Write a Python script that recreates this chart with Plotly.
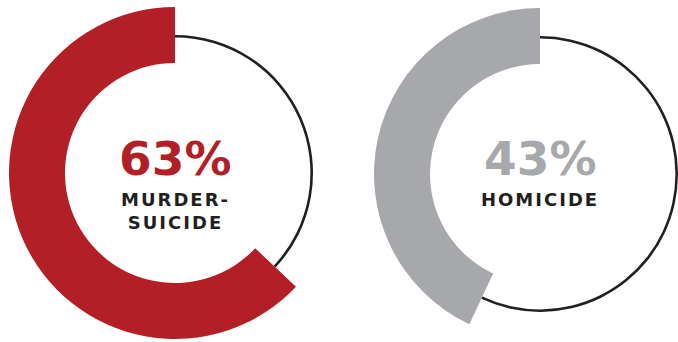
import plotly.graph_objects as go

# Data
labels = ["MURDER-<br>SUICIDE", "HOMICIDE"]
percents = [63, 43]
colors = ["#B31F27", "#A7A8AB"]

W, H = 720, 342   # page is viewed in a 678px window; extra width lets the right arc run off the edge
centers = [(175, 173), (540, 174)]
R_OUT, R_IN = 166, 110
R_LINE, LINE_W = 138, 2.6

def dom(cx, cy, r):
    clip = lambda v: min(1, max(0, v))
    return dict(x=[clip((cx - r) / W), clip((cx + r) / W)],
                y=[clip(1 - (cy + r) / H), clip(1 - (cy - r) / H)])

fig = go.Figure()
for (cx, cy), p, c in zip(centers, percents, colors):
    rest = 100 - p
    # thin ring for remainder (right side, clockwise from 12 o'clock)
    fig.add_trace(go.Pie(values=[rest, p], domain=dom(cx, cy, R_LINE),
                         hole=(R_LINE - LINE_W) / R_LINE, sort=False,
                         direction="clockwise", rotation=0,
                         marker=dict(colors=["#231F20", "rgba(0,0,0,0)"], line=dict(width=0)),
                         textinfo="none", hoverinfo="skip", showlegend=False))
    # thick arc for the share (left side, ending at 12 o'clock)
    fig.add_trace(go.Pie(values=[rest, p], domain=dom(cx, cy, R_OUT),
                         hole=R_IN / R_OUT, sort=False,
                         direction="clockwise", rotation=0,
                         marker=dict(colors=["rgba(0,0,0,0)", c], line=dict(width=0)),
                         textinfo="none", hoverinfo="skip", showlegend=False))

annos = []
font_family = "DejaVu Sans"
for (cx, cy), p, c, lab in zip(centers, percents, colors, labels):
    annos.append(dict(x=cx / W, y=1 - 158 / H, xref="paper", yref="paper",
                      text=f"<b>{p}%</b>", showarrow=False, xanchor="center", yanchor="middle",
                      font=dict(family=font_family, size=47, color=c)))
    lab_html = "<br>".join(f"<span style='letter-spacing:2px'><b>{t}</b></span>" for t in lab.split("<br>"))
    annos.append(dict(x=cx / W, y=1 - 187 / H, xref="paper", yref="paper",
                      text=lab_html, showarrow=False, xanchor="center", yanchor="top",
                      font=dict(family=font_family, size=18, color="#231F20")))

fig.update_layout(width=W, height=H, margin=dict(l=0, r=0, t=0, b=0),
                  paper_bgcolor="white", plot_bgcolor="white", annotations=annos)
fig.write_html("out.html", config={"displayModeBar": False},
               post_script="document.body.style.margin='0';document.body.style.overflow='hidden';")
